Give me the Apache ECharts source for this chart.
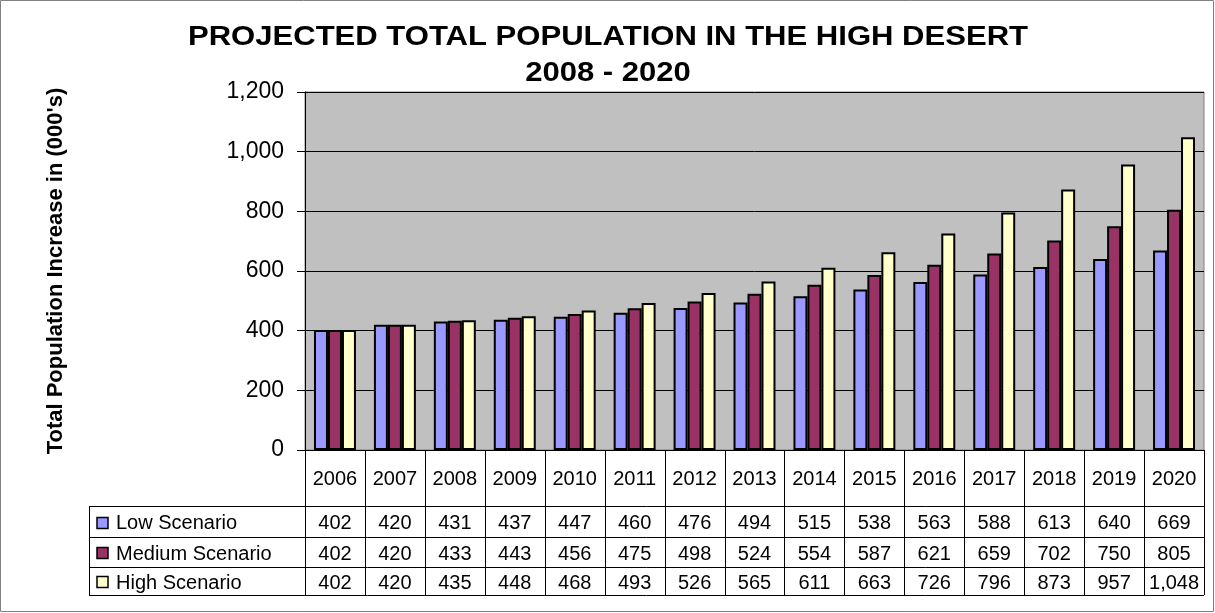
<!DOCTYPE html>
<html>
<head>
<meta charset="utf-8">
<script src="https://cdn.jsdelivr.net/npm/echarts@6/dist/echarts.min.js"></script>
<style>
  html, body { margin: 0; padding: 0; background: #fff; }
  #chart { width: 1215px; height: 613px; }
</style>
</head>
<body>
<div id="chart"></div>
<script>
// Projected population (thousands) per year and scenario
const years = ['2006','2007','2008','2009','2010','2011','2012','2013','2014','2015','2016','2017','2018','2019','2020'];
const lowScenario    = [402, 420, 431, 437, 447, 460, 476, 494, 515, 538, 563, 588, 613, 640, 669];
const mediumScenario = [402, 420, 433, 443, 456, 475, 498, 524, 554, 587, 621, 659, 702, 750, 805];
const highScenario   = [402, 420, 435, 448, 468, 493, 526, 565, 611, 663, 726, 796, 873, 957, 1048];
const seriesNames  = ['Low Scenario', 'Medium Scenario', 'High Scenario'];
const seriesColors = ['#9999FF', '#993366', '#FFFFCC'];
const yTicks = [0, 200, 400, 600, 800, 1000, 1200];
const titleLines = ['PROJECTED TOTAL POPULATION IN THE HIGH DESERT', '2008 - 2020'];

const FONT = '"Liberation Sans", Arial, sans-serif';
const fmt = v => v.toLocaleString('en-US');

const chart = echarts.init(document.getElementById('chart'), null, { renderer: 'canvas' });

const seriesData = [lowScenario, mediumScenario, highScenario];

const option = {
  animation: false,
  backgroundColor: '#fff',
  grid: {
    left: 305, right: 11, top: 92, bottom: 163,
    show: true, backgroundColor: '#C0C0C0', borderColor: '#808080', borderWidth: 1
  },
  xAxis: {
    type: 'category',
    data: years,
    axisLine: { lineStyle: { color: '#000', width: 1 } },
    axisTick: { show: false },
    axisLabel: { color: '#000', fontFamily: FONT, fontSize: 20, margin: 19 },
    splitLine: { show: false }
  },
  yAxis: {
    type: 'value',
    min: yTicks[0], max: yTicks[yTicks.length - 1], interval: 200,
    name: "Total Population Increase in (000's)",
    nameLocation: 'middle',
    nameGap: 238,
    nameTextStyle: { fontFamily: FONT, fontWeight: 'bold', fontSize: 22, color: '#000' },
    axisLine: { show: true, lineStyle: { color: '#000', width: 1 } },
    axisTick: { show: true, inside: false, length: 8, lineStyle: { color: '#000' } },
    axisLabel: { color: '#000', fontFamily: FONT, fontSize: 23, margin: 21, formatter: v => fmt(v) },
    splitLine: { show: true, lineStyle: { color: '#000', width: 1 } }
  },
  series: seriesData.map((d, i) => ({
    name: seriesNames[i],
    type: 'bar',
    data: d,
    barGap: '0%',
    barCategoryGap: '30%',
    itemStyle: { color: seriesColors[i], borderColor: '#000', borderWidth: 2 }
  }))
};

chart.setOption(option);

// Title, data table under the plot (aligned with the category bands) and frame
function buildDecorations() {
  const x0 = chart.convertToPixel({ xAxisIndex: 0 }, years[0]);
  const x1 = chart.convertToPixel({ xAxisIndex: 0 }, years[1]);
  const bw = x1 - x0;
  const left = x0 - bw / 2;
  const right = left + bw * years.length;
  const axisY = chart.convertToPixel({ yAxisIndex: 0 }, 0);
  const tableLeft = 89;
  const rowTops = [axisY + 56, axisY + 87, axisY + 117, axisY + 145];
  const els = [];

  // two-line heading, slightly widened
  titleLines.forEach((t, k) => {
    els.push({
      type: 'text', silent: true,
      x: 608, y: 38 + k * 36, scaleX: 1.15,
      style: { x: 0, y: 0, text: t, fill: '#000', font: 'bold 27px ' + FONT, textAlign: 'center', textVerticalAlign: 'middle' }
    });
  });

  const line = (xa, ya, xb, yb) => els.push({
    type: 'line', silent: true,
    shape: { x1: xa, y1: ya, x2: xb, y2: yb },
    style: { stroke: '#000', lineWidth: 1 }
  });
  // vertical separators
  for (let i = 0; i <= years.length; i++) {
    const x = Math.round(left + i * bw) + 0.5;
    line(x, axisY, x, rowTops[3]);
  }
  line(tableLeft + 0.5, rowTops[0], tableLeft + 0.5, rowTops[3]);
  rowTops.forEach(y => line(tableLeft, Math.round(y) + 0.5, right, Math.round(y) + 0.5));

  // rows
  seriesData.forEach((d, r) => {
    const cy = (rowTops[r] + rowTops[r + 1]) / 2 + 2;
    els.push({
      type: 'rect', silent: true,
      shape: { x: 97, y: Math.round(cy - 7) + 0.5, width: 11, height: 11 },
      style: { fill: seriesColors[r], stroke: '#000', lineWidth: 1.5 }
    });
    els.push({
      type: 'text', silent: true,
      style: { x: 116, y: cy, text: seriesNames[r], fill: '#000', font: '20px ' + FONT, textVerticalAlign: 'middle' }
    });
    d.forEach((v, i) => {
      els.push({
        type: 'text', silent: true,
        style: { x: left + (i + 0.5) * bw, y: cy, text: fmt(v), fill: '#000', font: '20px ' + FONT, textAlign: 'center', textVerticalAlign: 'middle' }
      });
    });
  });

  // outer frame
  els.push({
    type: 'rect', silent: true,
    shape: { x: 0.5, y: 0.5, width: 1213, height: 611 },
    style: { fill: null, stroke: '#808080', lineWidth: 1 }
  });
  chart.setOption({ graphic: els });
}
buildDecorations();
</script>
</body>
</html>
